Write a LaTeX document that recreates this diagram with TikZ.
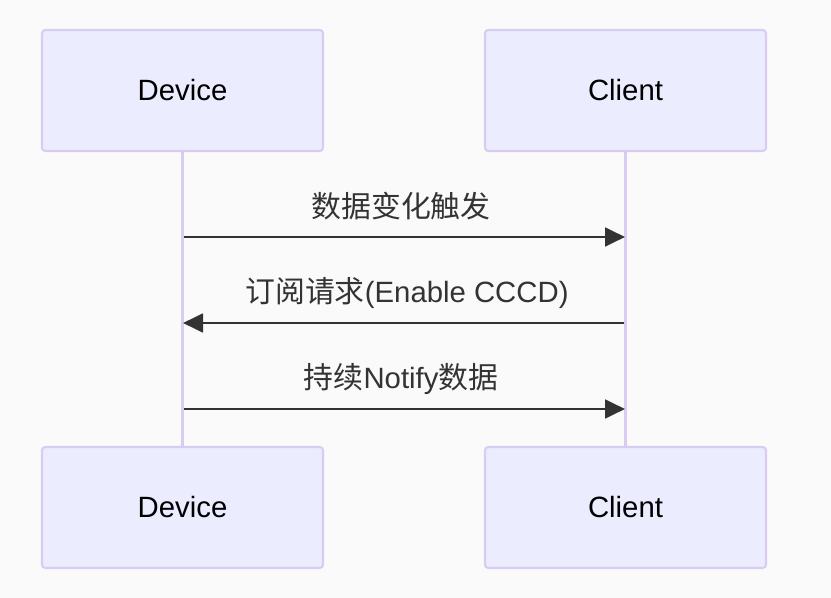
\documentclass[tikz,border=0pt]{standalone}
\usepackage{fontspec}
\setmainfont{Liberation Sans}
\newfontfamily\cjk{Noto Sans CJK SC}
\usetikzlibrary{arrows.meta}
\definecolor{bgc}{HTML}{FAFAFA}
\definecolor{actfill}{HTML}{ECECFF}
\definecolor{actline}{HTML}{D8CCF3}
\definecolor{msgc}{HTML}{333333}
\begin{document}
\begin{tikzpicture}[x=0.75pt,y=-0.75pt,
  actor/.style={draw=actline,fill=actfill,line width=1.6pt,rounded corners=2.5pt,
    minimum width=281*0.75pt,minimum height=121*0.75pt,inner sep=0pt,
    font=\fontsize{22}{26}\selectfont,text=black},
  lifeline/.style={draw=actline,line width=2.2pt},
  msg/.style={draw=msgc,line width=2.2pt,-{Triangle[length=15pt,width=14pt]}},
  msglabel/.style={font=\fontsize{22}{26}\selectfont,text=msgc,inner sep=0pt}]
\fill[bgc] (0,0) rectangle (831,598);
\useasboundingbox (0,0) rectangle (831,598);
\node[actor] (dt) at (182.5,90.5) {Device};
\node[actor] (ct) at (625.5,90.5) {Client};
\node[actor] (db) at (182.5,507.5) {Device};
\node[actor] (cb) at (625.5,507.5) {Client};
\draw[lifeline] (dt.south) -- (db.north);
\draw[lifeline] (ct.south) -- (cb.north);
\coordinate (d1) at (184,237); \coordinate (c1) at (625,237);
\coordinate (d2) at (183,323); \coordinate (c2) at (624,323);
\coordinate (d3) at (184,409); \coordinate (c3) at (625,409);
\draw[msg] (d1) -- (c1);
\draw[msg] (c2) -- (d2);
\draw[msg] (d3) -- (c3);
\node[msglabel] (l1) at (401,206) {{\cjk\fontsize{22.4}{26}\selectfont 数据变化触发}};
\node[msglabel] (l2) at (407,293) {{\cjk\fontsize{22.4}{26}\selectfont 订阅请求}(Enable CCCD)};
\node[msglabel] (l3) at (401,379) {{\cjk\fontsize{22.4}{26}\selectfont 持续}Notify{\cjk\fontsize{22.4}{26}\selectfont 数据}};
\end{tikzpicture}
\end{document}
